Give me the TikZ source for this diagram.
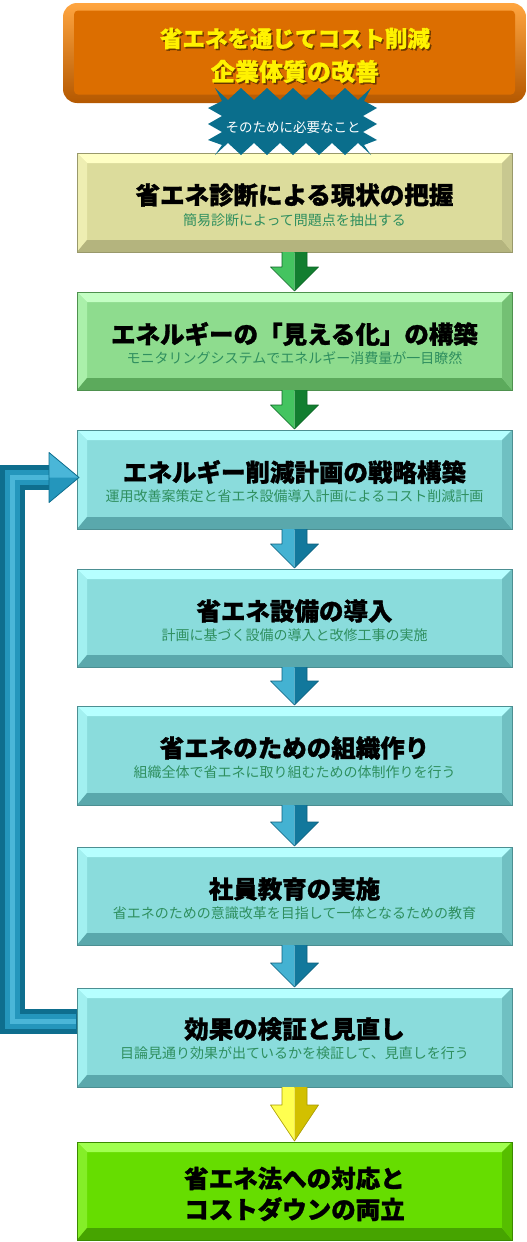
\documentclass[tikz,border=0pt]{standalone}
\usepackage{fontspec}
\setmainfont{Noto Sans CJK JP}[BoldFeatures={FakeBold=1.2}]
\usetikzlibrary{calc}
\definecolor{Otop}{HTML}{FFA540}
\definecolor{Obot}{HTML}{B45800}
\definecolor{Ofill}{HTML}{DC6E00}
\definecolor{Oshadow}{HTML}{6A3800}
\definecolor{Star}{HTML}{0A6E8C}
\definecolor{Subc}{HTML}{2F8F5F}
% yellow
\definecolor{Yfill}{HTML}{DCDC9C}\definecolor{Ytop}{HTML}{FFFFC4}\definecolor{Yleft}{HTML}{EEEEB2}\definecolor{Ybot}{HTML}{B4B47E}\definecolor{Yright}{HTML}{C8C890}
% green
\definecolor{Gfill}{HTML}{8EDC8E}\definecolor{Gtop}{HTML}{C4FFC4}\definecolor{Gleft}{HTML}{AAF0AA}\definecolor{Gbot}{HTML}{5CAA5C}\definecolor{Gright}{HTML}{74C074}
% cyan
\definecolor{Cfill}{HTML}{8ADCDC}\definecolor{Ctop}{HTML}{B6FFFF}\definecolor{Cleft}{HTML}{A2F0F0}\definecolor{Cbot}{HTML}{5AA8AC}\definecolor{Cright}{HTML}{70C0C2}
% lime
\definecolor{Lfill}{HTML}{66DD00}\definecolor{Ltop}{HTML}{A0FF50}\definecolor{Lleft}{HTML}{84EE28}\definecolor{Lbot}{HTML}{46A400}\definecolor{Lright}{HTML}{56BE00}
% arrows
\definecolor{AGl}{HTML}{44C460}\definecolor{AGd}{HTML}{127E30}
\definecolor{ABl}{HTML}{44B2D2}\definecolor{ABd}{HTML}{12789C}
\definecolor{AYl}{HTML}{FFFF50}\definecolor{AYd}{HTML}{D2C000}
\definecolor{Loop}{HTML}{0E6E8E}\definecolor{LoopM}{HTML}{2496BC}\definecolor{LoopL}{HTML}{4AB6D8}
\tikzset{
  panel/.style={minimum width=435, minimum height=99, inner sep=0, outer sep=0},
  ttl/.style={font=\fontsize{24.5}{28}\selectfont\bfseries, text=black, inner sep=0},
  sub/.style={font=\fontsize{14}{16}\selectfont, text=Subc, inner sep=0},
  toptxt/.style={font=\fontsize{22.5}{26}\selectfont\bfseries, inner sep=0},
}
\newcommand\bevel[2]{%
  \fill[#2top] (#1.north west) -- (#1.north east) -- ($(#1.north east)+(-10,10)$) -- ($(#1.north west)+(10,10)$) -- cycle;
  \fill[#2left] (#1.north west) -- ($(#1.north west)+(10,10)$) -- ($(#1.south west)+(10,-12)$) -- (#1.south west) -- cycle;
  \fill[#2bot] (#1.south west) -- ($(#1.south west)+(10,-12)$) -- ($(#1.south east)+(-10,-12)$) -- (#1.south east) -- cycle;
  \fill[#2right] (#1.north east) -- (#1.south east) -- ($(#1.south east)+(-10,-12)$) -- ($(#1.north east)+(-10,10)$) -- cycle;
  \draw[#2bot!85!black, line width=0.8] (#1.north west) rectangle (#1.south east);
}
\newcommand\downarr[5]{% from, to, light, dark, head length
  \fill[#3] ($(#1.south)+(-12.5,0)$) -- (#1.south) -- ($(#2.north)+(0,-1)$) -- ($(#2.north)+(-24,-#5)$) -- ($(#2.north)+(-12.5,-#5)$) -- cycle;
  \fill[#4] ($(#1.south)+(12.5,0)$) -- (#1.south) -- ($(#2.north)+(0,-1)$) -- ($(#2.north)+(24,-#5)$) -- ($(#2.north)+(12.5,-#5)$) -- cycle;
  \draw[#4!80!black, line width=0.6, line join=round] ($(#1.south)+(-12.5,0)$) -- ($(#2.north)+(-12.5,-#5)$) -- ($(#2.north)+(-24,-#5)$) -- ($(#2.north)+(0,-1)$) -- ($(#2.north)+(24,-#5)$) -- ($(#2.north)+(12.5,-#5)$) -- ($(#1.south)+(12.5,0)$);
}
\begin{document}
\begin{tikzpicture}[x=1pt,y=-1pt]
\useasboundingbox (0,0) rectangle (527,1242);
% top box
\shade[top color=Otop, bottom color=Obot, rounded corners=14] (63,3) rectangle (526,103);
\node[fill=Ofill, rounded corners=4, minimum width=441, minimum height=84, inner sep=0] (top) at (294.5,52.5) {};
\node[toptxt, text=Oshadow] (topsh1) at (296.5,40) {省エネを通じてコスト削減};
\node[toptxt, text=Oshadow, font=\fontsize{24}{28}\selectfont\bfseries] (topsh2) at (296.5,73) {企業体質の改善};
\node[toptxt, text=yellow] (top1) at (295,38.5) {省エネを通じてコスト削減};
\node[toptxt, text=yellow, font=\fontsize{24}{28}\selectfont\bfseries] (top2) at (295,71.5) {企業体質の改善};
% panels
\node[panel, fill=Yfill] (b1) at (294.5,202.5) {};
\node[panel, fill=Gfill, minimum height=98] (b2) at (294.5,341) {};
\node[panel, fill=Cfill] (b3) at (294.5,479.5) {};
\node[panel, fill=Cfill, minimum height=98] (b4) at (294.5,618) {};
\node[panel, fill=Cfill] (b5) at (294.5,755.5) {};
\node[panel, fill=Cfill, minimum height=98] (b6) at (294.5,896) {};
\node[panel, fill=Cfill] (b7) at (294.5,1037.5) {};
\node[panel, fill=Lfill, minimum height=98] (b8) at (294.5,1191) {};
\bevel{b1}{Y}\bevel{b2}{G}\bevel{b3}{C}\bevel{b4}{C}\bevel{b5}{C}\bevel{b6}{C}\bevel{b7}{C}\bevel{b8}{L}
% texts
\node[ttl] (b1t) at ($(b1.north)+(0,42)$) {省エネ診断による現状の把握};
\node[sub] (b1s) at ($(b1.north)+(0,67)$) {簡易診断によって問題点を抽出する};
\node[ttl] (b2t) at ($(b2.north)+(0,42)$) {エネルギーの「見える化」の構築};
\node[sub] (b2s) at ($(b2.north)+(0,66)$) {モニタリングシステムでエネルギー消費量が一目瞭然};
\node[ttl] (b3t) at ($(b3.north)+(0,42)$) {エネルギー削減計画の戦略構築};
\node[sub] (b3s) at ($(b3.north)+(0,66)$) {運用改善案策定と省エネ設備導入計画によるコスト削減計画};
\node[ttl] (b4t) at ($(b4.north)+(0,42)$) {省エネ設備の導入};
\node[sub] (b4s) at ($(b4.north)+(0,66)$) {計画に基づく設備の導入と改修工事の実施};
\node[ttl] (b5t) at ($(b5.north)+(0,42)$) {省エネのための組織作り};
\node[sub] (b5s) at ($(b5.north)+(0,66)$) {組織全体で省エネに取り組むための体制作りを行う};
\node[ttl] (b6t) at ($(b6.north)+(0,42)$) {社員教育の実施};
\node[sub] (b6s) at ($(b6.north)+(0,66)$) {省エネのための意識改革を目指して一体となるための教育};
\node[ttl] (b7t) at ($(b7.north)+(0,41)$) {効果の検証と見直し};
\node[sub] (b7s) at ($(b7.north)+(0,65)$) {目論見通り効果が出ているかを検証して、見直しを行う};
\node[ttl, align=center, font=\fontsize{24.5}{31}\selectfont\bfseries] (b8t) at ($(b8.north)+(0,52)$) {省エネ法への対応と\\コストダウンの両立};
% arrows
\downarr{b1}{b2}{AGl}{AGd}{25}
\downarr{b2}{b3}{AGl}{AGd}{25}
\downarr{b3}{b4}{ABl}{ABd}{25}
\downarr{b4}{b5}{ABl}{ABd}{25}
\downarr{b5}{b6}{ABl}{ABd}{25}
\downarr{b6}{b7}{ABl}{ABd}{25}
\downarr{b7}{b8}{AYl}{AYd}{37}
% feedback loop
\coordinate (ls) at ($(b7.west)+(0,-16)$);
\coordinate (le) at ($(b3.west)+(-28,-2)$);
\draw[Loop, line width=25] (ls) -| (12.5,0 |- le) -- (le);
\draw[LoopM, line width=15] ($(ls)+(-1,0)$) -| (12.5,0 |- le) -- (le);
\draw[LoopL, line width=5] ($(ls)+(-1,0)$) -| (12.5,0 |- le) -- (le);
\fill[LoopM] ($(le)+(0,-25)$) -- ($(b3.west)+(2,-2)$) -- ($(le)+(0,25)$) -- cycle;
\fill[LoopL] ($(le)+(0,-25)$) -- ($(b3.west)+(2,-2)$) -- ($(le)+(0,0)$) -- cycle;
\draw[Loop, line width=0.8, line join=round] ($(le)+(0,-25)$) -- ($(b3.west)+(2,-2)$) -- ($(le)+(0,25)$) -- cycle;
% starburst
\fill[Star] (215,88) -- (228,100) -- (241,88) -- (254,100) -- (267,88) -- (280,100) -- (293,88) -- (306,100) -- (319,88) -- (332,100) -- (345,88) -- (358,100) -- (371,88) -- (364,101)
  -- (377,108) -- (363,116) -- (377,124) -- (363,132) -- (377,140) -- (364,145) -- (371,155)
  -- (358,143) -- (345,155) -- (332,143) -- (319,155) -- (306,143) -- (293,155) -- (280,143) -- (267,155) -- (254,143) -- (241,155) -- (228,143) -- (215,155)
  -- (222,145) -- (208,140) -- (222,132) -- (208,124) -- (222,116) -- (208,108) -- (222,101) -- cycle;
\node[font=\fontsize{13.5}{16}\selectfont, text=white, inner sep=0] (need) at (293,127) {そのために必要なこと};
\end{tikzpicture}
\end{document}
